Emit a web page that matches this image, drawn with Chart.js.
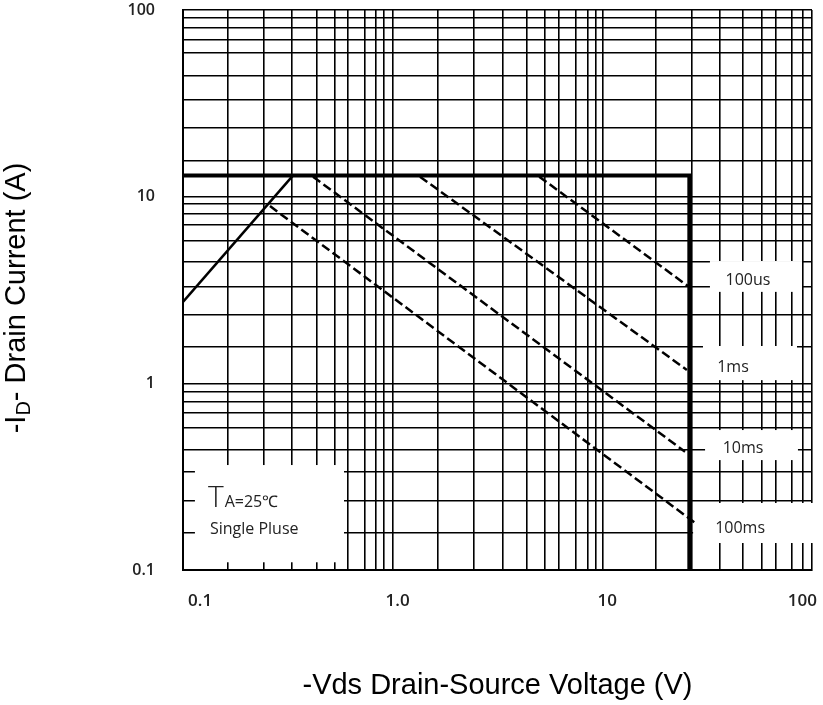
<!DOCTYPE html>
<html>
<head>
<meta charset="utf-8">
<script src="https://cdn.jsdelivr.net/npm/chart.js@4.4.1/dist/chart.umd.min.js"></script>
<style>
  body { margin: 0; background: #fff; }
</style>
</head>
<body>
<canvas id="soa" width="823" height="705"></canvas>
<script>
// grid lines as drawn on the original sheet (not a clean 1..9 log grid)
const xGrid = [0.1, 0.164, 0.243, 0.331, 0.436, 0.531, 0.612, 0.738, 0.833, 0.909,
  1, 1.645, 2.44, 3.36, 4.37, 5.33, 6.21, 7.49, 8.54, 9.33,
  10, 18.0, 26.8, 36.4, 46.9, 57.7, 67.3, 80.3, 90.6, 100];
const yGrid = [0.1, 0.158, 0.234, 0.335, 0.44, 0.576, 0.694, 0.794, 0.899,
  1, 1.57, 2.32, 3.28, 4.47, 5.79, 7.05, 8.07, 9.13,
  10, 15.5, 23.3, 32.9, 44.3, 58.8, 69.1, 80.1, 90.6, 100];

const xLabelValues = [0.1, 1, 10, 100];
const xLabelText = ['0.1', '1.0', '10', '100'];
const yLabelValues = [0.1, 1, 10, 100];
const yLabelText = ['0.1', '1', '10', '100'];

// safe operating area limit
const limitLine = [{ x: 0.1, y: 13 }, { x: 26, y: 13 }, { x: 26, y: 0.1 }];
const rdsLine = [{ x: 0.1, y: 2.73 }, { x: 0.335, y: 13 }];

// pulse width lines
const pulseNames = ['100us', '1ms', '10ms', '100ms'];
const pulseLines = [
  [{ x: 5.0, y: 12.8 }, { x: 25.6, y: 3.32 }],
  [{ x: 1.35, y: 12.8 }, { x: 25.3, y: 1.18 }],
  [{ x: 0.417, y: 12.8 }, { x: 24.8, y: 0.43 }],
  [{ x: 0.26, y: 8.9 }, { x: 27.5, y: 0.18 }]
];
const pulseLabelX = [49.5, 42.0, 46.9, 45.4];
const pulseLabelY = [3.58, 1.21, 0.45, 0.168];

// white patches where the sheet's grid is cut away for the labels
const gapBoxes = [
  { x0: 32.6, x1: 89.6, y0: 4.52, y1: 3.09 },
  { x0: 30.2, x1: 84.8, y0: 1.585, y1: 1.04 },
  { x0: 30.9, x1: 85.7, y0: 0.562, y1: 0.388 },
  { x0: 27.1, x1: 105, y0: 0.2286, y1: 0.1395 },
  { x0: 0.114, x1: 0.586, y0: 0.365, y1: 0.110 }
];

function labelFor(values, texts, v) {
  const i = values.findIndex(lv => Math.abs(Math.log10(lv) - Math.log10(v)) < 1e-6);
  return i >= 0 ? texts[i] : '';
}

const sheet = {
  id: 'sheet',
  beforeDatasetsDraw(chart) {
    const { ctx, scales: { x, y } } = chart;
    ctx.save();
    ctx.fillStyle = '#fff';
    gapBoxes.forEach(b => {
      const x1 = x.getPixelForValue(b.x0), x2 = x.getPixelForValue(b.x1);
      const y1 = y.getPixelForValue(b.y0), y2 = y.getPixelForValue(b.y1);
      ctx.fillRect(x1, y1, x2 - x1, y2 - y1);
    });
    ctx.restore();
  },
  afterDatasetsDraw(chart) {
    const { ctx, scales: { x, y } } = chart;
    ctx.save();
    ctx.fillStyle = '#222';
    ctx.textBaseline = 'middle';
    ctx.textAlign = 'center';
    ctx.font = '16px "Open Sans"';
    pulseNames.forEach((name, i) => {
      ctx.fillText(name, x.getPixelForValue(pulseLabelX[i]), y.getPixelForValue(pulseLabelY[i]));
    });

    // condition box, lower left
    const b = gapBoxes[4];
    const bx = x.getPixelForValue(b.x0), by = y.getPixelForValue(b.y0);
    ctx.textAlign = 'left';
    ctx.textBaseline = 'alphabetic';
    ctx.font = '300 30px "Open Sans"';
    ctx.fillText('T', bx + 13, by + 42);
    const tw = ctx.measureText('T').width;
    ctx.font = '16px "Open Sans"';
    ctx.fillText('A=25\u2103', bx + 13 + tw + 1, by + 42);
    ctx.fillText('Single Pluse', bx + 15, by + 69);

    // y axis title with subscript
    ctx.translate(17, 298);
    ctx.rotate(-Math.PI / 2);
    const big = '29px "Liberation Sans", Arial';
    const small = '20px "Liberation Sans", Arial';
    const parts = [['-I', big, 0], ['D', small, 7], ['- Drain Current (A)', big, 0]];
    let total = 0;
    parts.forEach(p => { ctx.font = p[1]; total += ctx.measureText(p[0]).width; });
    let cx = -total / 2;
    ctx.textBaseline = 'middle';
    ctx.fillStyle = '#000';
    parts.forEach(p => {
      ctx.font = p[1];
      ctx.fillText(p[0], cx, p[2]);
      cx += ctx.measureText(p[0]).width;
    });
    ctx.restore();
  }
};

const datasets = [
  { data: limitLine, borderColor: '#000', borderWidth: 4, borderJoinStyle: 'miter' },
  { data: rdsLine, borderColor: '#000', borderWidth: 2.5 }
].concat(pulseLines.map((pts, i) => ({
  label: pulseNames[i],
  data: pts,
  borderColor: '#000',
  borderWidth: 2.5,
  borderDash: [9, 4]
})));
datasets.forEach(d => { d.showLine = true; d.pointRadius = 0; d.fill = false; });

new Chart(document.getElementById('soa').getContext('2d'), {
  type: 'scatter',
  data: { datasets: datasets },
  plugins: [sheet],
  options: {
    responsive: false,
    animation: false,
    layout: { padding: { top: 10, right: 11, left: 0, bottom: 0 } },
    plugins: { legend: { display: false }, tooltip: { enabled: false } },
    scales: {
      x: {
        type: 'logarithmic',
        min: 0.1,
        max: 100,
        afterBuildTicks: s => { s.ticks = xGrid.map(v => ({ value: v })); },
        afterFit: s => { s.height = 135; s.paddingLeft = 0; s.paddingRight = 0; },
        grid: { color: '#000', lineWidth: 1.6, drawTicks: false },
        border: { color: '#000', width: 2 },
        ticks: {
          autoSkip: false,
          maxRotation: 0,
          align: 'inner',
          labelOffset: 5,
          padding: 21,
          color: '#222',
          font: { family: '"Open Sans"', size: 17, weight: '600' },
          callback: v => labelFor(xLabelValues, xLabelText, v)
        },
        title: {
          display: true,
          text: '-Vds Drain-Source Voltage (V)',
          color: '#000',
          font: { family: '"Liberation Sans", Arial', size: 29 },
          padding: { top: 0, bottom: 2 }
        }
      },
      y: {
        type: 'logarithmic',
        min: 0.1,
        max: 100,
        afterBuildTicks: s => { s.ticks = yGrid.map(v => ({ value: v })); },
        afterFit: s => { s.width = 183; s.paddingTop = 0; s.paddingBottom = 0; },
        grid: { color: '#000', lineWidth: 1.6, drawTicks: false },
        border: { color: '#000', width: 2 },
        ticks: {
          autoSkip: false,
          padding: 28,
          color: '#222',
          font: { family: '"Open Sans"', size: 16, weight: '600' },
          callback: v => labelFor(yLabelValues, yLabelText, v)
        }
      }
    }
  }
});
</script>
</body>
</html>
